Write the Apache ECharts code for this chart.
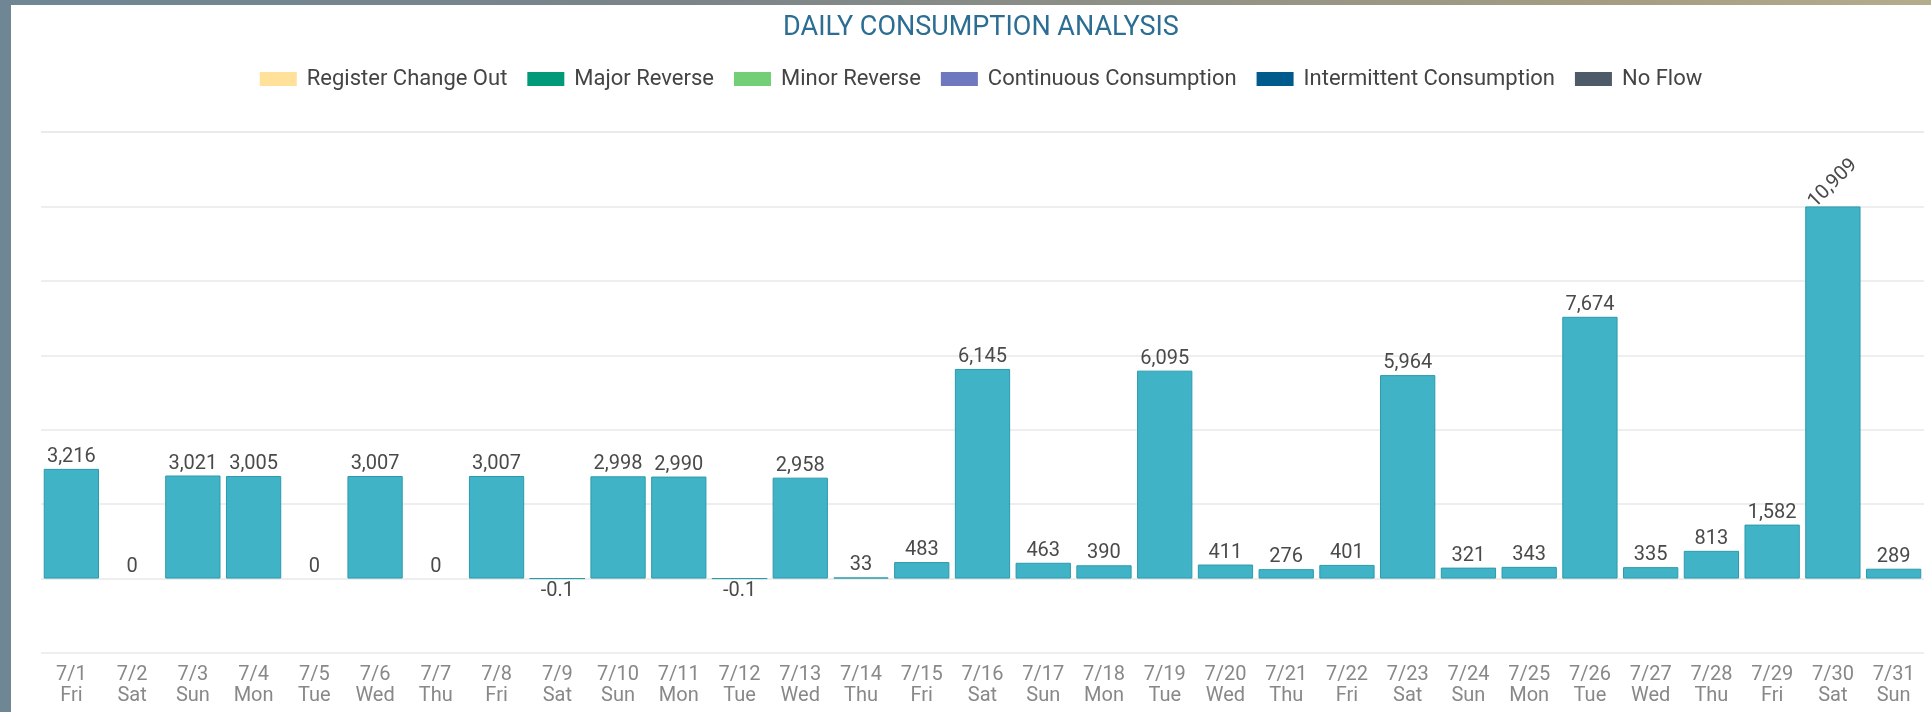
<!DOCTYPE html>
<html>

<head>
  <meta charset="utf-8">
  <title>Daily Consumption Analysis</title>
  <script src="https://cdn.jsdelivr.net/npm/echarts@6/dist/echarts.min.js"></script>
  <style>
    html, body { margin: 0; padding: 0; width: 1931px; height: 712px; overflow: hidden; }
    body { background: linear-gradient(to right, #6f8794 0%, #7b8489 35%, #a69e82 85%, #b3ad8e 100%); position: relative; }
    #main { position: absolute; left: 11px; top: 5px; width: 1940px; height: 707px; background: #fff; }
  </style>
</head>

<body>
  <div id="main"></div>
  <script type="text/javascript">
    // data
    var dates = ['7/1', '7/2', '7/3', '7/4', '7/5', '7/6', '7/7', '7/8', '7/9', '7/10', '7/11', '7/12', '7/13', '7/14', '7/15', '7/16',
      '7/17', '7/18', '7/19', '7/20', '7/21', '7/22', '7/23', '7/24', '7/25', '7/26', '7/27', '7/28', '7/29', '7/30', '7/31'];
    var days = ['Fri', 'Sat', 'Sun', 'Mon', 'Tue', 'Wed', 'Thu', 'Fri', 'Sat', 'Sun', 'Mon', 'Tue', 'Wed', 'Thu', 'Fri', 'Sat',
      'Sun', 'Mon', 'Tue', 'Wed', 'Thu', 'Fri', 'Sat', 'Sun', 'Mon', 'Tue', 'Wed', 'Thu', 'Fri', 'Sat', 'Sun'];
    var consumption = [3216, 0, 3021, 3005, 0, 3007, 0, 3007, -0.1, 2998, 2990, -0.1, 2958, 33, 483, 6145,
      463, 390, 6095, 411, 276, 401, 5964, 321, 343, 7674, 335, 813, 1582, 10909, 289];
    var legendNames = ['Register Change Out', 'Major Reverse', 'Minor Reverse', 'Continuous Consumption', 'Intermittent Consumption', 'No Flow'];
    var legendColors = ['#ffe19a', '#009a78', '#72cf76', '#6e78be', '#005a8c', '#4c5b67'];

    var myChart = echarts.init(document.getElementById('main'));

    var categories = dates.map(function (d, i) { return d + '\n' + days[i]; });
    var yStep = Math.max.apply(null, consumption) / 5;

    var barData = consumption.map(function (v) {
      var item = { value: v, label: { position: v < 0 ? 'bottom' : 'top' } };
      if (v === 0) item.itemStyle = { borderWidth: 0 };
      if (v >= 10000) {
        item.label = { position: 'top', rotate: 45, align: 'center', verticalAlign: 'middle', distance: 23 };
      }
      return item;
    });

    var series = legendNames.map(function (name, i) {
      return { name: name, type: 'bar', stack: 'all', data: [], itemStyle: { color: legendColors[i] } };
    });
    series.push({
      name: 'Consumption',
      type: 'bar',
      stack: 'all',
      barCategoryGap: '9%',
      itemStyle: { color: '#40b4c6', borderColor: '#2b9aac', borderWidth: 1 },
      label: {
        show: true,
        distance: 2,
        fontFamily: 'Roboto',
        fontSize: 20,
        color: '#4a4a4a',
        formatter: function (p) { return p.value.toLocaleString('en-US'); }
      },
      data: barData
    });

    var option = {
      animation: false,
      title: {
        text: 'DAILY CONSUMPTION ANALYSIS',
        left: 'center',
        top: 5,
        textStyle: { color: '#2b6d93', fontFamily: 'Roboto', fontSize: 27, fontWeight: 'normal' }
      },
      legend: {
        data: legendNames,
        left: 'center',
        top: 58,
        icon: 'rect',
        itemWidth: 37,
        itemHeight: 14,
        itemGap: 20,
        textStyle: { color: '#444', fontFamily: 'Roboto', fontSize: 22, padding: [0, 0, 0, 5] }
      },
      grid: { left: 30, right: 27, top: 127, bottom: 59 },
      xAxis: {
        type: 'category',
        data: categories,
        axisLine: { show: false },
        axisTick: { show: false },
        axisLabel: { color: '#888', fontFamily: 'Roboto', fontSize: 20, lineHeight: 21, margin: 11, interval: 0 }
      },
      yAxis: {
        type: 'value',
        min: -yStep,
        max: yStep * 6,
        interval: yStep,
        axisLabel: { show: false },
        axisLine: { show: false },
        axisTick: { show: false },
        splitLine: { lineStyle: { color: '#e8e8e8', width: 1.5 } }
      },
      series: series
    };

    myChart.setOption(option);
  </script>
</body>

</html>
